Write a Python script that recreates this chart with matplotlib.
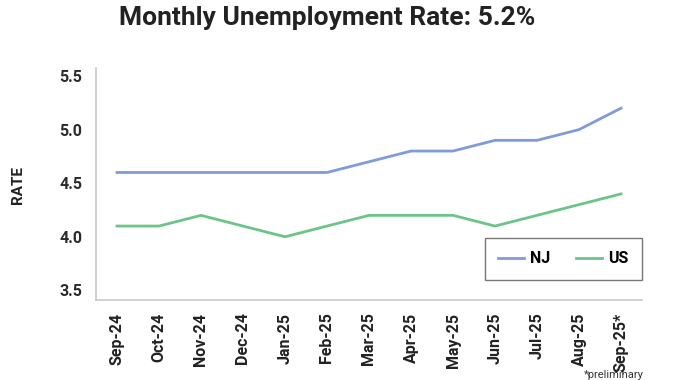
import matplotlib
matplotlib.use("Agg")
import matplotlib.pyplot as plt

months = ["Sep-24", "Oct-24", "Nov-24", "Dec-24", "Jan-25", "Feb-25", "Mar-25",
          "Apr-25", "May-25", "Jun-25", "Jul-25", "Aug-25", "Sep-25*"]
nj = [4.6, 4.6, 4.6, 4.6, 4.6, 4.6, 4.7, 4.8, 4.8, 4.9, 4.9, 5.0, 5.2]
us = [4.1, 4.1, 4.2, 4.1, 4.0, 4.1, 4.2, 4.2, 4.2, 4.1, 4.2, 4.3, 4.4]
yticks = [3.5, 4.0, 4.5, 5.0, 5.5]

plt.rcParams['font.family'] = ['Roboto', 'DejaVu Sans']

fig = plt.figure(figsize=(6.75, 3.8), dpi=100)
ax = fig.add_axes([96/675, 1 - 300/380, (642-96)/675, (300-68)/380])

x = list(range(len(months)))
ax.plot(x, nj, color="#7f9bd8", lw=2, label="NJ")
ax.plot(x, us, color="#6cc588", lw=2, label="US")

ax.set_xlim(-0.5, len(months) - 0.5)
ax.set_ylim(3.41, 5.575)
ax.set_yticks(yticks)
ax.set_yticklabels([f"{v:.1f}" for v in yticks], fontweight="bold", fontsize=11.5, color="#2a2a2a")
ax.set_xticks(x)
ax.set_xticklabels(months, rotation=90, fontweight="bold", fontsize=11.5, color="#222222")
ax.tick_params(axis="x", length=0, pad=9)
ax.tick_params(axis="y", length=0, pad=10)

for s in ["top", "right"]:
    ax.spines[s].set_visible(False)
ax.spines["left"].set_color("#c8c8c8")
ax.spines["bottom"].set_color("#c8c8c8")
ax.spines["left"].set_linewidth(1.2)
ax.spines["bottom"].set_linewidth(1.2)

fig.text(18/675, 1 - 185/380, "RATE", rotation=90, ha="center", va="center",
         fontweight="bold", fontsize=11, color="#222222")

leg = ax.legend(loc="lower right", bbox_to_anchor=(1.0, 0.086), borderaxespad=0,
                ncol=2, frameon=True, fancybox=False, borderpad=0.85,
                handlelength=1.6, handletextpad=0.4, columnspacing=1.6,
                prop={"weight": "bold", "size": 11.5})
leg.get_frame().set_edgecolor("#555555")
leg.get_frame().set_linewidth(1.0)

fig.text(327/675, 1 - 18/380, "Monthly Unemployment Rate: 5.2%", ha="center", va="center",
         fontsize=19, fontweight="bold", color="#222222")
fig.text(0.91, 0.0, "*preliminary", ha="center", va="bottom", fontsize=8, color="#333333")

fig.savefig("out.png", dpi=100)
